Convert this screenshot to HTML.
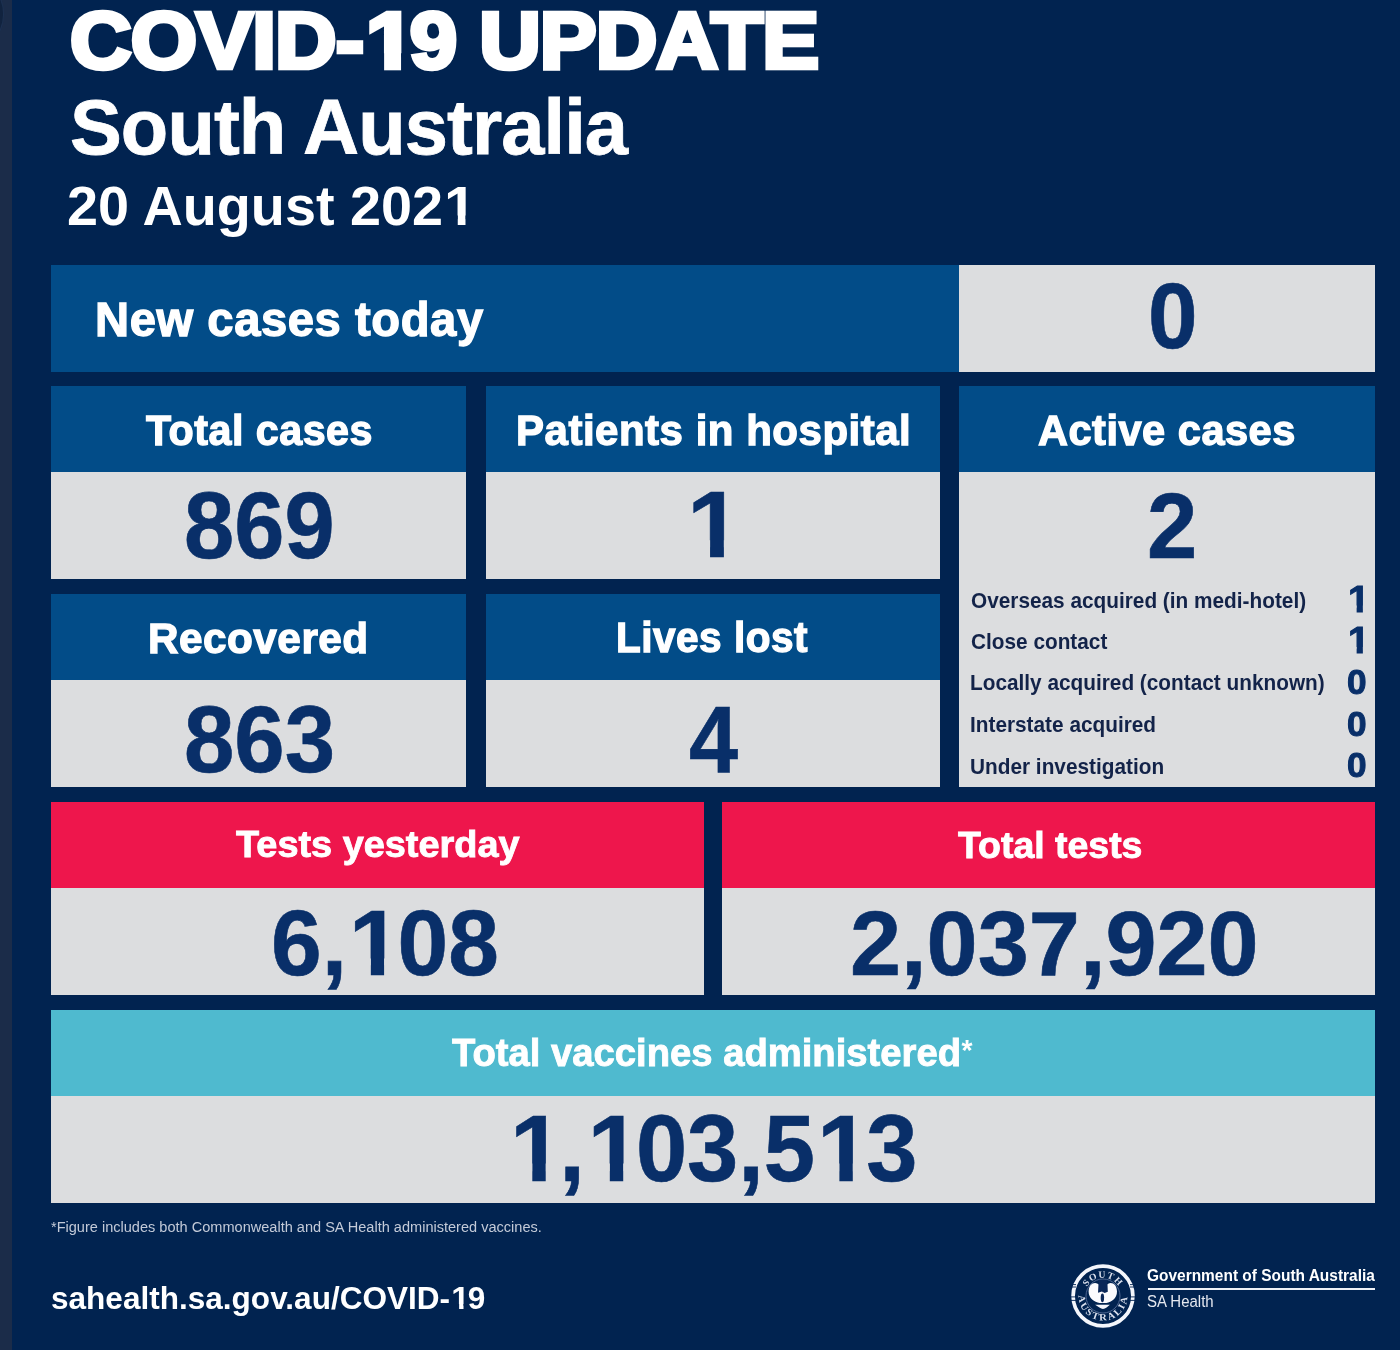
<!DOCTYPE html>
<html lang="en">
<head>
<meta charset="utf-8">
<title>COVID-19 Update South Australia 20 August 2021</title>
<style>
html,body{margin:0;padding:0;background:#012350;}
body{width:1400px;height:1350px;overflow:hidden;font-family:"Liberation Sans",sans-serif;}
#page{position:relative;width:1400px;height:1350px;background:#012350;overflow:hidden;}
.b{position:absolute;}
.strip{left:0;top:0;width:12px;height:1350px;background:#1b2c49;}
.corner{left:-72.6px;top:-23.6px;width:75.2px;height:75.2px;border-radius:50%;background:#11233f;box-shadow:0 0 0 1px #1c3152;}
.blue{background:#024c88;}
.grey{background:#dcdddf;}
.red{background:#ee164c;}
.teal{background:#4fbacf;}
.t{position:absolute;white-space:nowrap;line-height:1;transform-origin:0 0;font-family:"Liberation Sans",sans-serif;}
.o{display:inline-block;position:relative;left:0.025em;transform:scaleX(1.045);transform-origin:0 50%;clip-path:polygon(-0.1em -0.1em,calc(0.39em + var(--a,0em)) -0.1em,calc(0.39em + var(--a,0em)) 0.66em,calc(0.3685em + var(--a,0em)) 0.66em,calc(0.3685em + var(--a,0em)) 1.1em,calc(0.2355em - var(--a,0em)) 1.1em,calc(0.2355em - var(--a,0em)) 0.66em,-0.1em 0.66em);}
.ast{font-size:0.74em;line-height:0;vertical-align:0.2em;font-weight:700;-webkit-text-stroke:0;margin-left:0.02em;}

</style>
</head>
<body>
<div id="page">
<div class="b strip"></div>
<div class="b corner"></div>
<!-- row 1 -->
<div class="b blue" style="left:50.5px;top:265px;width:908.5px;height:106.5px"></div>
<div class="b grey" style="left:959px;top:265px;width:416px;height:106.5px"></div>
<!-- row 2 -->
<div class="b blue" style="left:50.5px;top:386px;width:415.5px;height:86px"></div>
<div class="b grey" style="left:50.5px;top:472px;width:415.5px;height:107px"></div>
<div class="b blue" style="left:485.5px;top:386px;width:454.5px;height:86px"></div>
<div class="b grey" style="left:485.5px;top:472px;width:454.5px;height:107px"></div>
<div class="b blue" style="left:959px;top:386px;width:416px;height:86px"></div>
<div class="b grey" style="left:959px;top:472px;width:416px;height:314.5px"></div>
<!-- row 3 -->
<div class="b blue" style="left:50.5px;top:594px;width:415.5px;height:86px"></div>
<div class="b grey" style="left:50.5px;top:680px;width:415.5px;height:107px"></div>
<div class="b blue" style="left:485.5px;top:594px;width:454.5px;height:86px"></div>
<div class="b grey" style="left:485.5px;top:680px;width:454.5px;height:107px"></div>
<!-- row 4 -->
<div class="b red" style="left:50.5px;top:802px;width:653px;height:86px"></div>
<div class="b grey" style="left:50.5px;top:888px;width:653px;height:106.5px"></div>
<div class="b red" style="left:722px;top:802px;width:653px;height:86px"></div>
<div class="b grey" style="left:722px;top:888px;width:653px;height:106.5px"></div>
<!-- row 5 -->
<div class="b teal" style="left:50.5px;top:1009.5px;width:1324.5px;height:86.5px"></div>
<div class="b grey" style="left:50.5px;top:1096px;width:1324.5px;height:106.5px"></div>
<!-- logo rule -->
<div class="b" style="left:1147.5px;top:1287.6px;width:227.5px;height:2.2px;background:#eef1f7"></div>

<div class="t" id="t1" style="left:70.39px;top:0.38px;font-size:80.15px;font-weight:700;color:#ffffff;transform:scaleX(1.0636);letter-spacing:-0.01em;-webkit-text-stroke:4.6px #ffffff;--a:0.0287em;">COVID-<span class="o">1</span>9 UPDATE</div>
<div class="t" id="t2" style="left:69.57px;top:88.86px;font-size:77.66px;font-weight:700;color:#ffffff;transform:scaleX(1.0002);letter-spacing:-0.012em;-webkit-text-stroke:0.8px #ffffff;--a:0.0052em;">South Australia</div>
<div class="t" id="t3" style="left:66.55px;top:178.88px;font-size:55.62px;font-weight:700;color:#ffffff;transform:scaleX(1.0027);">20 August 202<span class="o">1</span></div>
<div class="t" id="h0" style="left:94.98px;top:295.77px;font-size:47.59px;font-weight:700;color:#ffffff;transform:scaleX(0.9915);letter-spacing:0.012em;-webkit-text-stroke:1.3px #ffffff;--a:0.0137em;">New cases today</div>
<div class="t" id="n0" style="left:1148.04px;top:268.94px;font-size:93.52px;font-weight:700;color:#092f69;transform:scaleX(0.9522);-webkit-text-stroke:0.6px #092f69;--a:0.0032em;">0</div>
<div class="t" id="h1" style="left:146.24px;top:409.42px;font-size:42.77px;font-weight:700;color:#ffffff;transform:scaleX(0.9639);letter-spacing:0.012em;-webkit-text-stroke:1.3px #ffffff;--a:0.0152em;">Total cases</div>
<div class="t" id="h2" style="left:515.52px;top:409.04px;font-size:42.63px;font-weight:700;color:#ffffff;transform:scaleX(0.9857);letter-spacing:0.012em;-webkit-text-stroke:1.3px #ffffff;--a:0.0152em;">Patients in hospital</div>
<div class="t" id="h3" style="left:1038.21px;top:409.56px;font-size:41.90px;font-weight:700;color:#ffffff;transform:scaleX(0.9921);letter-spacing:0.012em;-webkit-text-stroke:1.3px #ffffff;--a:0.0155em;">Active cases</div>
<div class="t" id="n1" style="left:183.59px;top:478.62px;font-size:94.37px;font-weight:700;color:#092f69;transform:scaleX(0.9564);-webkit-text-stroke:0.6px #092f69;--a:0.0032em;">869</div>
<div class="t" id="n2" style="left:684.78px;top:478.22px;font-size:94.06px;font-weight:700;color:#092f69;transform:scaleX(1.0092);-webkit-text-stroke:0.6px #092f69;--a:0.0032em;"><span class="o">1</span></div>
<div class="t" id="n3" style="left:1147.34px;top:478.95px;font-size:93.43px;font-weight:700;color:#092f69;transform:scaleX(0.9678);-webkit-text-stroke:0.6px #092f69;--a:0.0032em;">2</div>
<div class="t" id="h4" style="left:148.40px;top:617.02px;font-size:42.77px;font-weight:700;color:#ffffff;transform:scaleX(0.9881);letter-spacing:0.012em;-webkit-text-stroke:1.3px #ffffff;--a:0.0152em;">Recovered</div>
<div class="t" id="h5" style="left:616.31px;top:616.67px;font-size:42.48px;font-weight:700;color:#ffffff;transform:scaleX(0.9548);letter-spacing:0.012em;-webkit-text-stroke:1.3px #ffffff;--a:0.0153em;">Lives lost</div>
<div class="t" id="n4" style="left:183.59px;top:692.64px;font-size:94.23px;font-weight:700;color:#092f69;transform:scaleX(0.9605);-webkit-text-stroke:0.6px #092f69;--a:0.0032em;">863</div>
<div class="t" id="n5" style="left:689.08px;top:691.59px;font-size:94.93px;font-weight:700;color:#092f69;transform:scaleX(0.9294);-webkit-text-stroke:0.6px #092f69;--a:0.0032em;">4</div>
<div class="t" id="h6" style="left:235.57px;top:826.29px;font-size:37.81px;font-weight:700;color:#ffffff;transform:scaleX(1.0020);-webkit-text-stroke:0.9px #ffffff;--a:0.0119em;">Tests yesterday</div>
<div class="t" id="h7" style="left:958.08px;top:827.00px;font-size:37.08px;font-weight:700;color:#ffffff;transform:scaleX(1.0096);-webkit-text-stroke:0.9px #ffffff;--a:0.0121em;">Total tests</div>
<div class="t" id="n6" style="left:270.81px;top:897.48px;font-size:92.54px;font-weight:700;color:#092f69;transform:scaleX(0.9839);-webkit-text-stroke:0.6px #092f69;--a:0.0032em;">6,<span class="o">1</span>08</div>
<div class="t" id="n7" style="left:849.98px;top:898.29px;font-size:91.13px;font-weight:700;color:#092f69;transform:scaleX(1.0081);-webkit-text-stroke:0.6px #092f69;--a:0.0033em;">2,037,920</div>
<div class="t" id="h8" style="left:452.47px;top:1032.89px;font-size:39.12px;font-weight:700;color:#ffffff;transform:scaleX(0.9771);-webkit-text-stroke:0.9px #ffffff;--a:0.0115em;">Total vaccines administered<span class="ast">*</span></div>
<div class="t" id="n8" style="left:508.26px;top:1101.50px;font-size:93.80px;font-weight:700;color:#092f69;transform:scaleX(0.9811);-webkit-text-stroke:0.6px #092f69;--a:0.0032em;"><span class="o">1</span>,<span class="o">1</span>03,5<span class="o">1</span>3</div>
<div class="t" id="fn" style="left:50.98px;top:1219.46px;font-size:15.07px;font-weight:400;color:#c3cad8;transform:scaleX(0.9658);">*Figure includes both Commonwealth and SA Health administered vaccines.</div>
<div class="t" id="url" style="left:50.90px;top:1283.23px;font-size:31.45px;font-weight:700;color:#ffffff;transform:scaleX(1.0034);">sahealth.sa.gov.au/COVID-<span class="o">1</span>9</div>
<div class="t" id="gov" style="left:1146.88px;top:1267.01px;font-size:16.06px;font-weight:700;color:#ffffff;transform:scaleX(0.9631);">Government of South Australia</div>
<div class="t" id="sah" style="left:1146.83px;top:1293.53px;font-size:15.94px;font-weight:400;color:#e6e9f0;transform:scaleX(0.9405);">SA Health</div>
<div class="t" id="r0" style="left:970.57px;top:589.88px;font-size:22.04px;font-weight:700;color:#132349;transform:scaleX(0.9438);">Overseas acquired (in medi-hotel)</div>
<div class="t" id="rn0" style="left:1346.67px;top:581.61px;font-size:36.09px;font-weight:700;color:#092f69;transform:scaleX(1.0293);-webkit-text-stroke:1.0px #092f69;--a:0.0139em;"><span class="o">1</span></div>
<div class="t" id="r1" style="left:970.57px;top:631.28px;font-size:22.04px;font-weight:700;color:#132349;transform:scaleX(0.9438);">Close contact</div>
<div class="t" id="rn1" style="left:1346.67px;top:623.31px;font-size:36.09px;font-weight:700;color:#092f69;transform:scaleX(1.0293);-webkit-text-stroke:1.0px #092f69;--a:0.0139em;"><span class="o">1</span></div>
<div class="t" id="r2" style="left:970.05px;top:672.28px;font-size:22.04px;font-weight:700;color:#132349;transform:scaleX(0.9438);">Locally acquired (contact unknown)</div>
<div class="t" id="rn2" style="left:1347.39px;top:665.13px;font-size:35.63px;font-weight:700;color:#092f69;transform:scaleX(0.9866);-webkit-text-stroke:1.0px #092f69;--a:0.0140em;">0</div>
<div class="t" id="r3" style="left:970.05px;top:714.38px;font-size:22.04px;font-weight:700;color:#132349;transform:scaleX(0.9438);">Interstate acquired</div>
<div class="t" id="rn3" style="left:1347.39px;top:706.63px;font-size:35.63px;font-weight:700;color:#092f69;transform:scaleX(0.9866);-webkit-text-stroke:1.0px #092f69;--a:0.0140em;">0</div>
<div class="t" id="r4" style="left:970.15px;top:755.78px;font-size:22.04px;font-weight:700;color:#132349;transform:scaleX(0.9438);">Under investigation</div>
<div class="t" id="rn4" style="left:1347.39px;top:748.43px;font-size:35.63px;font-weight:700;color:#092f69;transform:scaleX(0.9866);-webkit-text-stroke:1.0px #092f69;--a:0.0140em;">0</div>
<svg class="b" style="left:1063.4px;top:1256px" width="80" height="80" viewBox="-40 -40 80 80" aria-label="Government of South Australia emblem">
<defs>
<path id="arcTop" d="M -18.4,0 A 18.4,18.4 0 0 1 18.4,0"/>
<path id="arcBot" d="M -24.4,0 A 24.4,24.4 0 0 0 24.4,0"/>
</defs>
<circle cx="0" cy="0" r="29.9" fill="none" stroke="#f4f6fb" stroke-width="3.7"/>
<g stroke="#012350" stroke-width="0.9">
<line x1="-33" y1="-11.4" x2="-27" y2="-11.4"/><line x1="-33" y1="-9" x2="-27" y2="-9"/><line x1="-33" y1="0.9" x2="-27" y2="0.9"/><line x1="-33" y1="4.4" x2="-27" y2="4.4"/>
<line x1="33" y1="-11.4" x2="27" y2="-11.4"/><line x1="33" y1="-9" x2="27" y2="-9"/><line x1="33" y1="0.9" x2="27" y2="0.9"/><line x1="33" y1="4.4" x2="27" y2="4.4"/>
</g>
<circle cx="0" cy="0" r="17" fill="none" stroke="#4d6590" stroke-width="1"/>
<g font-family="'Liberation Serif', serif" font-weight="700" fill="#d9dfec" text-anchor="middle">
<text font-size="9.4" letter-spacing="0.9" textLength="38.5" lengthAdjust="spacingAndGlyphs"><textPath href="#arcTop" startOffset="50%" textLength="38.5" lengthAdjust="spacingAndGlyphs">SOUTH</textPath></text>
<text font-size="9.6" letter-spacing="1.5" textLength="77" lengthAdjust="spacingAndGlyphs"><textPath href="#arcBot" startOffset="50%" textLength="77" lengthAdjust="spacingAndGlyphs">AUSTRALIA</textPath></text>
</g>
<path d="M 0,-3 C -1.2,-15.5 -14,-16.5 -14.4,-4.4 C -14.4,2.5 -8.5,6 -3.4,7 L 3.4,7 C 8.5,6 14,2.5 14,-4.4 C 13.6,-16.5 1.2,-15.5 0,-3 Z" fill="#fbfbfe"/>
<path d="M -4.3,-16 L 4.3,-16 L 4.8,-4.2 L 1.7,-2.9 L -1,-4.6 L -5,-3.3 Z" fill="#0a2758"/>
<ellipse cx="-0.6" cy="1.8" rx="1.7" ry="4.4" fill="#0a2758"/>
<path d="M -7.9,8.7 L 6.9,8.7 L 3.6,11.6 Q 0,14.4 -3.6,11.6 Z" fill="#f3f5fb"/>
</svg>

</div>
</body>
</html>
